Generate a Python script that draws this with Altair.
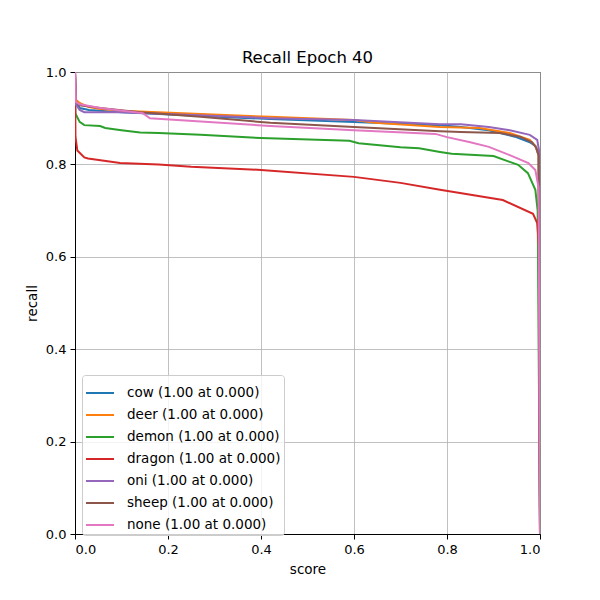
import altair as alt
import pandas as pd

classes = ["cow", "deer", "demon", "dragon", "oni", "sheep", "none"]
colors = ["#1f77b4", "#ff7f0e", "#2ca02c", "#d62728", "#9467bd", "#8c564b", "#e377c2"]
best_recall = [1.00, 1.00, 1.00, 1.00, 1.00, 1.00, 1.00]
best_score = [0.000, 0.000, 0.000, 0.000, 0.000, 0.000, 0.000]

cow_score = [0, 0.002, 0.01, 0.03, 0.1, 0.42, 0.6, 0.785, 0.83, 0.89, 0.946, 0.978, 0.99, 0.997, 1.0]
cow_recall = [1.0, 0.935, 0.922, 0.918, 0.913, 0.898, 0.892, 0.885, 0.881, 0.874, 0.86, 0.848, 0.84, 0.82, 0.0]

deer_score = [0, 0.002, 0.01, 0.03, 0.054, 0.1, 0.42, 0.6, 0.645, 0.785, 0.87, 0.935, 0.978, 0.99, 0.997, 1.0]
deer_recall = [1.0, 0.94, 0.933, 0.924, 0.92, 0.916, 0.903, 0.896, 0.89, 0.881, 0.879, 0.868, 0.853, 0.84, 0.82, 0.0]

demon_score = [0, 0.001, 0.01, 0.02, 0.054, 0.065, 0.1, 0.14, 0.18, 0.27, 0.4, 0.59, 0.61, 0.7, 0.74,
               0.785, 0.81, 0.9, 0.953, 0.974, 0.99, 0.995, 1.0]
demon_recall = [1.0, 0.91, 0.892, 0.885, 0.883, 0.879, 0.874, 0.869, 0.868, 0.864, 0.857, 0.851, 0.846,
                0.837, 0.835, 0.827, 0.823, 0.818, 0.799, 0.781, 0.745, 0.70, 0.0]

dragon_score = [0, 0.001, 0.005, 0.02, 0.028, 0.097, 0.18, 0.25, 0.4, 0.6, 0.7, 0.785, 0.92, 0.985,
                0.994, 0.998, 1.0]
dragon_recall = [1.0, 0.86, 0.83, 0.815, 0.813, 0.803, 0.80, 0.795, 0.788, 0.773, 0.76, 0.745, 0.723,
                 0.693, 0.673, 0.62, 0.0]

oni_score = [0, 0.002, 0.01, 0.02, 0.1, 0.42, 0.6, 0.785, 0.83, 0.89, 0.935, 0.978, 0.994, 0.998, 1.0]
oni_recall = [1.0, 0.93, 0.918, 0.913, 0.913, 0.90, 0.896, 0.887, 0.887, 0.881, 0.874, 0.864, 0.853, 0.83, 0.0]

sheep_score = [0, 0.002, 0.01, 0.054, 0.14, 0.27, 0.42, 0.6, 0.785, 0.83, 0.914, 0.957, 0.983, 0.992, 0.997, 1.0]
sheep_recall = [1.0, 0.935, 0.928, 0.922, 0.913, 0.903, 0.89, 0.881, 0.872, 0.870, 0.868, 0.86, 0.848,
                0.836, 0.82, 0.0]

none_score = [0, 0.002, 0.01, 0.054, 0.12, 0.146, 0.161, 0.42, 0.6, 0.73, 0.775, 0.8, 0.85, 0.89, 0.935,
              0.975, 0.99, 0.997, 1.0]
none_recall = [1.0, 0.935, 0.93, 0.922, 0.914, 0.911, 0.90, 0.883, 0.874, 0.868, 0.866, 0.859, 0.848,
               0.838, 0.82, 0.803, 0.788, 0.75, 0.0]

series = {
    "cow": (cow_score, cow_recall),
    "deer": (deer_score, deer_recall),
    "demon": (demon_score, demon_recall),
    "dragon": (dragon_score, dragon_recall),
    "oni": (oni_score, oni_recall),
    "sheep": (sheep_score, sheep_recall),
    "none": (none_score, none_recall),
}

labels = [f"{c} ({r:.2f} at {s:.3f})" for c, r, s in zip(classes, best_recall, best_score)]

rows = []
for i, c in enumerate(classes):
    sc, rc = series[c]
    for j, (s, r) in enumerate(zip(sc, rc)):
        rows.append({"label": labels[i], "idx": i, "score": s, "recall": r, "order": j})
df = pd.DataFrame(rows)

FONT = "DejaVu Sans"

chart = alt.Chart(df).mark_line(strokeWidth=2, clip=True).encode(
    x=alt.X("score:Q", title="score",
            scale=alt.Scale(domain=[0, 1], nice=False),
            axis=alt.Axis(values=[0, 0.2, 0.4, 0.6, 0.8, 1.0], format=".1f")),
    y=alt.Y("recall:Q", title="recall",
            scale=alt.Scale(domain=[0, 1], nice=False),
            axis=alt.Axis(values=[0, 0.2, 0.4, 0.6, 0.8, 1.0], format=".1f")),
    color=alt.Color("label:N", scale=alt.Scale(domain=labels, range=colors),
                    legend=alt.Legend(title=None, orient="none", legendX=7, legendY=303,
                                      symbolType="stroke", symbolSize=784, symbolStrokeWidth=2,
                                      labelFontSize=13.5, labelFont=FONT, labelColor="black",
                                      rowPadding=-10, padding=3, labelOffset=12,
                                      fillColor="rgba(255,255,255,0.8)", strokeColor="#cccccc",
                                      cornerRadius=3, labelLimit=400)),
    order=alt.Order("order:Q"),
    detail="idx:N",
).properties(
    width=465, height=462,
    title=alt.TitleParams("Recall Epoch 40", fontSize=16.5, font=FONT, fontWeight="normal",
                          color="black", offset=0),
    padding={"left": 67, "top": 64, "right": 44, "bottom": 50},
    autosize=alt.AutoSizeParams(type="none"),
).configure_view(
    stroke="black", strokeWidth=1
).configure_axis(
    domainColor="black", domainWidth=1, tickColor="black", tickSize=5, tickWidth=1,
    gridColor="#b0b0b0", gridWidth=0.8,
    labelFont=FONT, labelFontSize=13, labelColor="black", labelPadding=4,
    titleFont=FONT, titleFontSize=13.5, titleFontWeight="normal", titleColor="black",
    titlePadding=6,
)

chart.save("out.html", embed_options={"renderer": "svg", "actions": False})
